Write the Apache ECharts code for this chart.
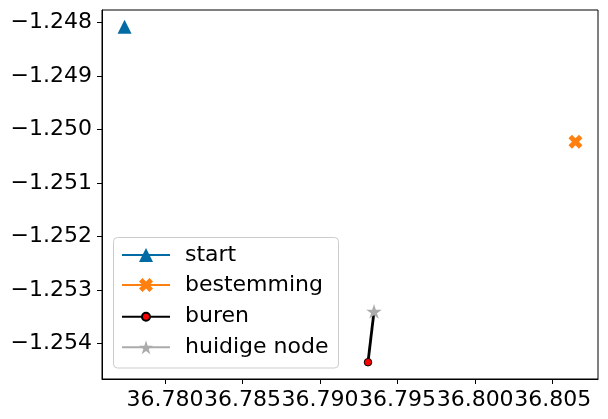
<!DOCTYPE html>
<html><head><meta charset="utf-8">
<script src="https://cdn.jsdelivr.net/npm/echarts@6/dist/echarts.min.js"></script>
<style>html,body{margin:0;padding:0;background:#fff}#c{width:608px;height:419px}</style>
</head><body><div id="c"></div>
<script>
// ---- data ----
const startPoint = [[36.77739, -1.24808]];
const bestemmingPoint = [[36.80647, -1.25023]];
const burenPoints = [[36.79348, -1.25340], [36.79309, -1.25435]];
const huidigeNodePoint = [[36.79348, -1.25340]];
const xTickValues = [36.780, 36.785, 36.790, 36.795, 36.800, 36.805];
const yTickValues = [-1.254, -1.253, -1.252, -1.251, -1.250, -1.249, -1.248];
const seriesNames = ['start', 'bestemming', 'buren', 'huidige node'];

// ---- axis ranges with 5% margins (like matplotlib autoscale) ----
const allPts = [].concat(startPoint, bestemmingPoint, burenPoints, huidigeNodePoint);
const xs = allPts.map(p => p[0]), ys = allPts.map(p => p[1]);
const xLo = Math.min(...xs), xHi = Math.max(...xs), yLo = Math.min(...ys), yHi = Math.max(...ys);
const xPad = (xHi - xLo) * 0.05, yPad = (yHi - yLo) * 0.05;

// ---- marker shapes ----
function starPath() {
  let d = '';
  for (let i = 0; i < 10; i++) {
    const r = i % 2 ? 0.381966 : 1;
    const a = (-90 + i * 36) * Math.PI / 180;
    d += (i ? 'L' : 'M') + (r * Math.cos(a)).toFixed(4) + ',' + (r * Math.sin(a)).toFixed(4);
  }
  return 'path://' + d + 'Z';
}
const xFilled = 'path://M2,-4L4,-2L2,0L4,2L2,4L0,2L-2,4L-4,2L-2,0L-4,-2L-2,-4L0,-2Z';
const FONT = 'DejaVu Sans';
const FS = 22;

const chart = echarts.init(document.getElementById('c'), null, {renderer: 'canvas'});
const noEmph = {disabled: true};

function legendFor(name, idx) {
  const centers = [255, 285, 316.7, 347.3];
  const heights = [17.5, 17.5, 10, 17.5];
  return {
    data: [name], orient: 'vertical', left: 121, top: centers[idx] - 11.5,
    padding: 0, itemWidth: 48, itemHeight: heights[idx], selectedMode: false, z: 5,
    textStyle: {fontFamily: FONT, fontSize: FS, color: '#000', lineHeight: 23, padding: [0, 0, 0, 10]}
  };
}

// neighbour line: marker only on the neighbour end (the current-node end is covered by the star)
const burenData = burenPoints.map((p, i) => i === 0 ? {value: p, symbol: 'none'} : {value: p});

chart.setOption({
  animation: false,
  backgroundColor: '#fff',
  grid: {left: 102, right: 10, top: 10, bottom: 40, show: true, borderColor: '#000', borderWidth: 1, outerBoundsMode: 'none', containLabel: false},
  xAxis: {
    type: 'value', min: xLo - xPad, max: xHi + xPad, scale: true,
    axisLine: {show: true, onZero: false, lineStyle: {color: '#000', width: 1}},
    axisTick: {show: true, length: 5, lineStyle: {color: '#000', width: 1}, customValues: xTickValues},
    axisLabel: {customValues: xTickValues, margin: 10, fontFamily: FONT, fontSize: FS, color: '#000',
      formatter: v => v.toFixed(3), hideOverlap: false},
    splitLine: {show: false}
  },
  yAxis: {
    type: 'value', min: yLo - yPad, max: yHi + yPad, scale: true,
    axisLine: {show: true, onZero: false, lineStyle: {color: '#000', width: 1}},
    axisTick: {show: true, length: 5, lineStyle: {color: '#000', width: 1}, customValues: yTickValues},
    axisLabel: {customValues: yTickValues, margin: 10, fontFamily: FONT, fontSize: FS, color: '#000',
      formatter: v => (v < 0 ? '\u2212' : '') + Math.abs(v).toFixed(3), hideOverlap: false},
    splitLine: {show: false}
  },
  legend: seriesNames.map(legendFor),
  graphic: [{
    type: 'rect', left: 113, top: 237, z: 3,
    shape: {width: 225, height: 130.5, r: 4},
    style: {fill: 'rgba(255,255,255,0.8)', stroke: '#cccccc', lineWidth: 1}
  }],
  series: [
    {name: seriesNames[0], type: 'line', data: startPoint, symbol: 'triangle', symbolSize: 14,
      itemStyle: {color: '#006BA4', borderWidth: 0}, lineStyle: {color: '#006BA4', width: 1.5}, emphasis: noEmph},
    {name: seriesNames[1], type: 'line', data: bestemmingPoint, symbol: xFilled, symbolSize: 14,
      itemStyle: {color: '#FF800E', borderWidth: 0}, lineStyle: {color: '#FF800E', width: 1.5}, emphasis: noEmph},
    {name: seriesNames[2], type: 'line', data: burenData, symbol: 'circle', symbolSize: 7.5,
      itemStyle: {color: '#ff0000', borderColor: '#000', borderWidth: 1}, lineStyle: {color: '#000', width: 2.8}, emphasis: noEmph},
    {name: seriesNames[3], type: 'line', data: huidigeNodePoint, symbol: starPath(), symbolSize: [15.5, 14.7],
      itemStyle: {color: '#ABABAB', borderWidth: 0}, lineStyle: {color: '#ABABAB', width: 1.5}, emphasis: noEmph}
  ]
});
</script>
</body></html>
